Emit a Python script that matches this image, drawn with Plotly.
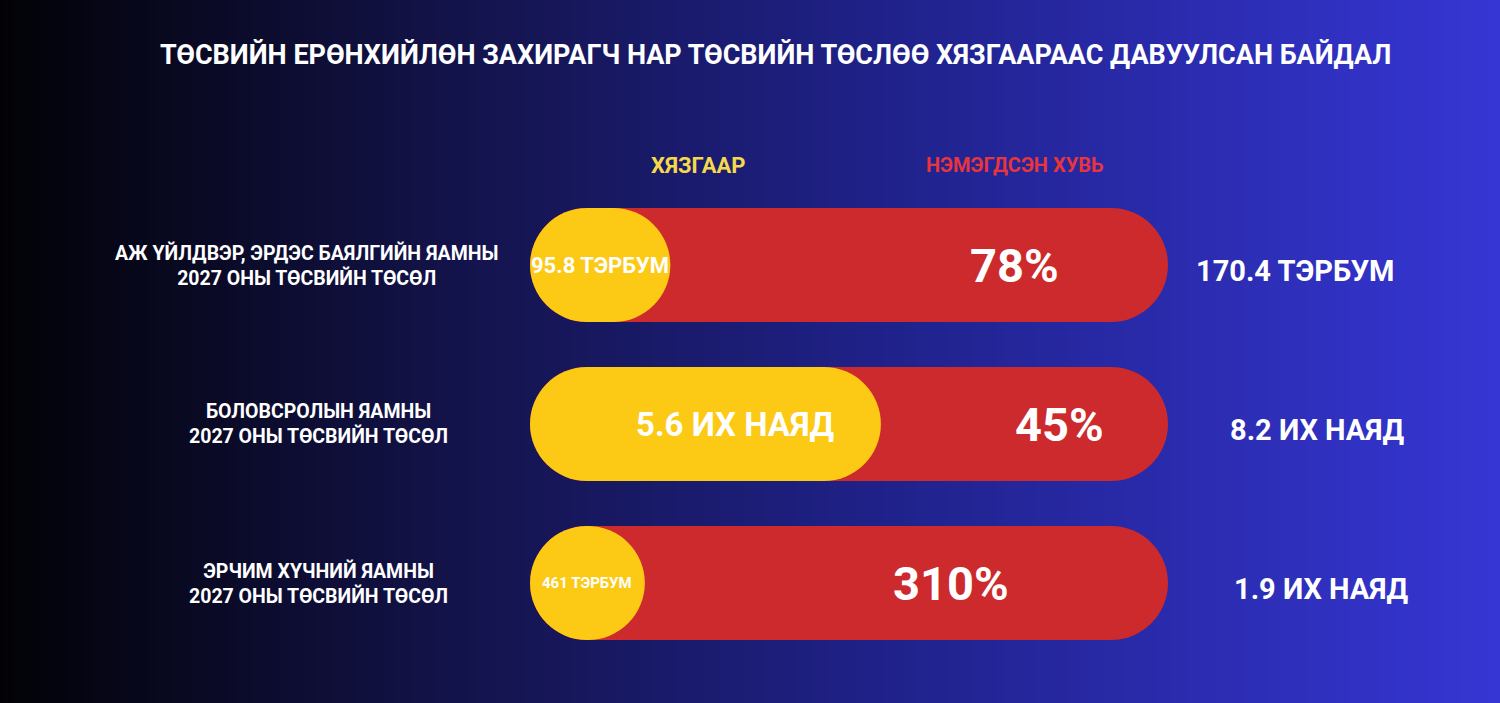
import numpy as np
import plotly.graph_objects as go

# --- data ---
ministries = [
    "АЖ ҮЙЛДВЭР, ЭРДЭС БАЯЛГИЙН ЯАМНЫ<br>2027 ОНЫ ТӨСВИЙН ТӨСӨЛ",
    "БОЛОВСРОЛЫН ЯАМНЫ<br>2027 ОНЫ ТӨСВИЙН ТӨСӨЛ",
    "ЭРЧИМ ХҮЧНИЙ ЯАМНЫ<br>2027 ОНЫ ТӨСВИЙН ТӨСӨЛ",
]
limit_labels = ["95.8 ТЭРБУМ", "5.6 ИХ НАЯД", "461 ТЭРБУМ"]
budget_labels = ["170.4 ТЭРБУМ", "8.2 ИХ НАЯД", "1.9 ИХ НАЯД"]
increase_pct = [78, 45, 310]
limit_share = [0.22, 0.55, 0.18]   # part of the bar drawn yellow

title = "ТӨСВИЙН ЕРӨНХИЙЛӨН ЗАХИРАГЧ НАР ТӨСВИЙН ТӨСЛӨӨ ХЯЗГААРААС ДАВУУЛСАН БАЙДАЛ"
head_limit = "ХЯЗГААР"
head_pct = "НЭМЭГДСЭН ХУВЬ"

# --- styling ---
FONT = "Roboto, Liberation Sans, sans-serif"
RED = "#CC2A2C"
YELLOW = "#FCC915"
BAR_PX = 114           # bar thickness in px
UNIT_PX = 638          # px for full bar length
BASE = 1e-6            # non-zero base so both ends get rounded
cats = ["a", "b", "c"]
limit_size = [22, 33, 15]
limit_shift = [0, 30, 0]
pct_x = [0.76, 0.83, 0.66]
right_x = [1.20, 1.233, 1.24]
left_x = [-0.35, -0.332, -0.332]

fig = go.Figure()

# background gradient
gx = np.linspace(0, 1, 60)
fig.add_trace(go.Heatmap(
    x=gx, y=[0, 1], z=[gx, gx], zsmooth="best", showscale=False, hoverinfo="skip",
    colorscale=[[0, "#020206"], [0.3, "#13134a"], [0.6, "#20228c"], [1, "#3636d4"]],
    xaxis="x", yaxis="y",
))

fig.add_trace(go.Bar(
    y=cats, x=[1 - BASE] * 3, base=[BASE] * 3, orientation="h", width=BAR_PX / 159,
    marker=dict(color=RED, cornerradius=BAR_PX / 2, line_width=0),
    xaxis="x2", yaxis="y2", hoverinfo="skip",
))
fig.add_trace(go.Bar(
    y=cats, x=[s - BASE for s in limit_share], base=[BASE] * 3, orientation="h",
    width=BAR_PX / 159,
    marker=dict(color=YELLOW, cornerradius=BAR_PX / 2, line_width=0),
    xaxis="x2", yaxis="y2", hoverinfo="skip",
))

ann = []
for i, c in enumerate(cats):
    ann.append(dict(x=limit_share[i] / 2, y=c, xref="x2", yref="y2", text=limit_labels[i],
                    xshift=limit_shift[i], showarrow=False, xanchor="center",
                    font=dict(family=FONT, size=limit_size[i], color="white", weight="bold")))
    ann.append(dict(x=pct_x[i], y=c, xref="x2", yref="y2", text=f"{increase_pct[i]}%",
                    showarrow=False, xanchor="center",
                    font=dict(family=FONT, size=47, color="white", weight="bold")))
    ann.append(dict(x=right_x[i], y=c, xref="x2", yref="y2", text=budget_labels[i],
                    yshift=-6, showarrow=False, xanchor="center",
                    font=dict(family=FONT, size=29, color="white", weight="bold")))
    ann.append(dict(x=left_x[i], y=c, xref="x2", yref="y2", text=ministries[i],
                    showarrow=False, align="center", xanchor="center",
                    font=dict(family=FONT, size=19.5, color="white", weight="bold")))

ann.append(dict(x=0.517, y=1 - 55 / 703, xref="paper", yref="paper", text=title,
                showarrow=False, xanchor="center", yanchor="middle",
                font=dict(family=FONT, size=27, color="white", weight="bold")))
ann.append(dict(x=698 / 1500, y=1 - 165 / 703, xref="paper", yref="paper", text=head_limit,
                showarrow=False, xanchor="center", yanchor="middle",
                font=dict(family=FONT, size=22, color="#F5D94A", weight="bold")))
ann.append(dict(x=1015 / 1500, y=1 - 165 / 703, xref="paper", yref="paper", text=head_pct,
                showarrow=False, xanchor="center", yanchor="middle",
                font=dict(family=FONT, size=20, color="#E8343C", weight="bold")))

hidden = dict(visible=False, showgrid=False, zeroline=False, fixedrange=True)
fig.update_layout(
    width=1500, height=703,
    margin=dict(l=0, r=0, t=0, b=0),
    paper_bgcolor="#0b0b2a", plot_bgcolor="rgba(0,0,0,0)",
    showlegend=False, barmode="overlay",
    xaxis=dict(range=[0, 1], domain=[0, 1], **hidden),
    yaxis=dict(range=[0, 1], domain=[0, 1], **hidden),
    xaxis2=dict(range=[-530 / UNIT_PX, 970 / UNIT_PX], overlaying="x", **hidden),
    yaxis2=dict(type="category", categoryorder="array", categoryarray=cats,
                range=[2 + 120 / 159, -265 / 159], overlaying="y", **hidden),
    annotations=ann,
)

fig.write_html("out.html", config={"displayModeBar": False},
               post_script="document.body.style.margin='0';")
